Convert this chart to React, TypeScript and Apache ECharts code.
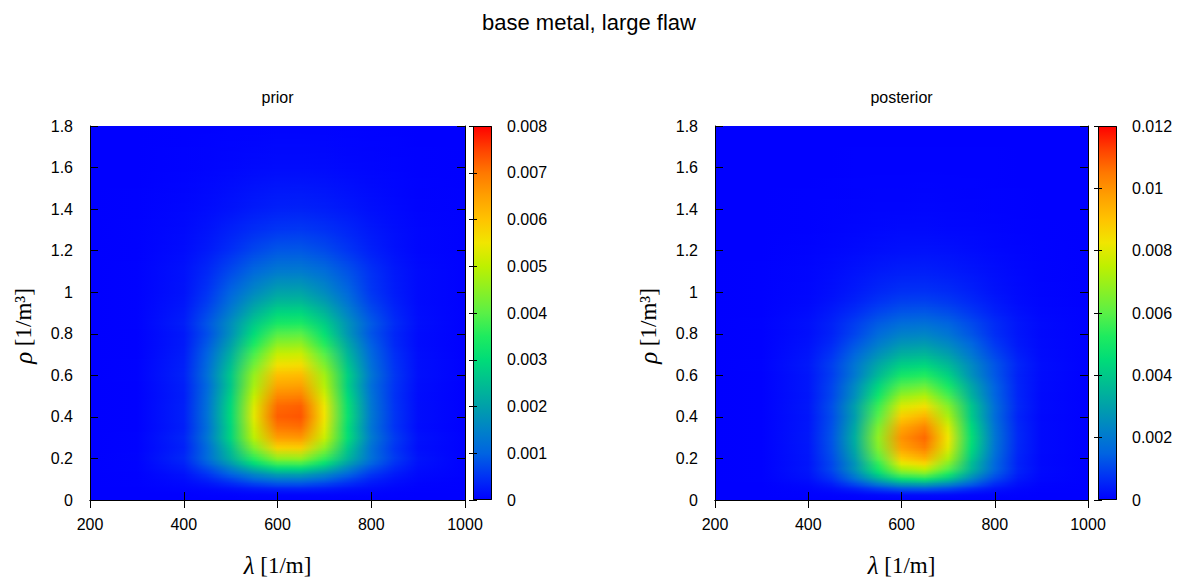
import React, { useEffect, useRef } from "react";
import * as echarts from "echarts";

// λ positions (1/m) of the value columns, and ρ (1/m³) positions of the value rows
const LAMBDA_STOPS = [200, 300, 400, 450, 500, 550, 600, 650, 700, 750, 800, 850, 900, 1000];
const RHO_ROWS = [0, 0.025, 0.05, 0.075, 0.1, 0.125, 0.15, 0.175, 0.2, 0.25, 0.3, 0.35, 0.4, 0.45, 0.5, 0.55, 0.6, 0.65, 0.7, 0.75, 0.8, 0.85, 0.9, 0.95, 1.0, 1.1, 1.2, 1.3, 1.4, 1.6, 1.8];

// matrix entries are in units of 1e-4
const VALUE_UNIT = 1e-4;

const PRIOR_VALUES = [
  [0, 0, 0, 0, 0, 0, 0, 0, 0, 0, 0, 0, 0, 0],
  [0, 0, 0.04, 0.11, 0.22, 0.36, 0.47, 0.5, 0.41, 0.27, 0.15, 0.06, 0.02, 0],
  [0, 0.02, 0.25, 0.64, 1.3, 2.2, 2.8, 3.0, 2.5, 1.6, 0.87, 0.37, 0.12, 0.01],
  [0, 0.05, 0.66, 1.8, 3.7, 6.0, 7.7, 7.8, 6.3, 4.1, 2.1, 0.98, 0.33, 0.02],
  [0, 0.08, 1.2, 3.4, 6.7, 10.7, 13.5, 13.7, 11.0, 7.1, 3.6, 1.7, 0.57, 0.03],
  [0, 0.13, 1.7, 5.1, 10.1, 16.0, 20.3, 20.5, 16.5, 10.6, 5.4, 2.6, 0.86, 0.05],
  [0.01, 0.18, 2.5, 7.2, 14.4, 22.9, 29.0, 29.3, 23.6, 15.1, 7.7, 3.7, 1.2, 0.07],
  [0.01, 0.23, 3.2, 9.4, 18.8, 29.8, 37.7, 38.1, 30.6, 19.7, 10.0, 4.8, 1.6, 0.09],
  [0.01, 0.28, 3.9, 11.3, 22.6, 35.9, 45.4, 45.9, 36.9, 23.7, 12.1, 5.8, 1.9, 0.11],
  [0, 0.16, 3.2, 11.3, 25.4, 43.8, 57.7, 58.3, 45.2, 26.9, 12.2, 5.2, 1.4, 0.05],
  [0, 0.18, 3.6, 12.9, 28.8, 49.6, 65.4, 66.1, 51.2, 30.5, 13.9, 5.9, 1.6, 0.05],
  [0, 0.11, 3.0, 11.9, 28.8, 51.8, 70.0, 70.8, 53.7, 30.4, 12.9, 5.0, 1.2, 0.04],
  [0, 0.11, 3.1, 12.3, 29.7, 53.6, 72.4, 73.2, 55.5, 31.5, 13.4, 5.2, 1.3, 0.04],
  [0, 0.11, 3.1, 12.1, 29.4, 52.9, 71.4, 72.3, 54.8, 31.1, 13.2, 5.1, 1.3, 0.04],
  [0, 0.11, 2.9, 11.6, 28.0, 50.4, 68.1, 68.9, 52.2, 29.6, 12.6, 4.9, 1.2, 0.04],
  [0, 0.12, 3.0, 10.9, 26.4, 47.6, 64.3, 65.0, 49.2, 27.9, 11.9, 5.0, 1.3, 0.04],
  [0, 0.16, 3.3, 11.9, 26.7, 46.0, 60.6, 61.2, 47.4, 28.2, 12.9, 5.4, 1.5, 0.05],
  [0, 0.15, 3.1, 11.0, 24.6, 42.3, 55.8, 56.4, 43.7, 26.0, 11.8, 5.0, 1.4, 0.05],
  [0, 0.14, 2.8, 10.0, 22.5, 38.7, 51.0, 51.5, 39.9, 23.7, 10.8, 4.6, 1.3, 0.04],
  [0, 0.12, 2.5, 8.9, 19.9, 34.3, 45.2, 45.7, 35.4, 21.1, 9.6, 4.0, 1.1, 0.04],
  [0, 0.14, 2.4, 7.7, 17.4, 29.9, 39.4, 39.9, 30.9, 18.4, 8.4, 3.8, 1.1, 0.05],
  [0.01, 0.21, 2.9, 8.4, 16.8, 26.7, 33.8, 34.2, 27.5, 17.6, 9.0, 4.3, 1.4, 0.08],
  [0.01, 0.18, 2.5, 7.2, 14.4, 22.9, 29.0, 29.3, 23.6, 15.1, 7.7, 3.7, 1.2, 0.07],
  [0.01, 0.15, 2.1, 6.0, 12.0, 19.1, 24.2, 24.4, 19.6, 12.6, 6.4, 3.1, 1.0, 0.06],
  [0.01, 0.15, 1.8, 5.1, 10.1, 16.0, 20.3, 20.5, 16.5, 10.6, 5.4, 2.7, 0.95, 0.07],
  [0.01, 0.2, 1.7, 3.9, 7.3, 10.9, 13.6, 13.8, 11.6, 8.2, 4.8, 2.4, 0.98, 0.09],
  [0.01, 0.13, 1.1, 2.5, 4.6, 7.0, 8.7, 8.8, 7.5, 5.3, 3.1, 1.6, 0.63, 0.06],
  [0.01, 0.15, 0.94, 1.8, 3.1, 4.4, 5.3, 5.5, 4.8, 3.6, 2.3, 1.3, 0.58, 0.08],
  [0.01, 0.09, 0.56, 1.1, 1.8, 2.6, 3.2, 3.3, 2.9, 2.2, 1.4, 0.75, 0.35, 0.05],
  [0, 0.03, 0.19, 0.37, 0.61, 0.87, 1.1, 1.1, 0.96, 0.72, 0.46, 0.25, 0.12, 0.02],
  [0, 0.01, 0.05, 0.1, 0.17, 0.24, 0.29, 0.3, 0.26, 0.2, 0.13, 0.07, 0.03, 0],
];

const POSTERIOR_VALUES = [
  [0, 0, 0, 0, 0, 0, 0, 0, 0, 0, 0, 0, 0, 0],
  [0, 0, 0.08, 0.28, 0.7, 1.3, 1.9, 2.0, 1.6, 0.93, 0.41, 0.14, 0.03, 0],
  [0, 0.02, 0.49, 1.7, 4.2, 7.9, 11.2, 11.8, 9.4, 5.6, 2.5, 0.83, 0.2, 0.01],
  [0, 0.05, 1.2, 4.1, 10.5, 19.8, 28.0, 29.6, 23.5, 14.0, 6.2, 2.1, 0.52, 0.02],
  [0, 0.08, 2.1, 6.9, 17.5, 33.0, 46.6, 49.4, 39.2, 23.3, 10.4, 3.5, 0.87, 0.03],
  [0, 0.1, 2.7, 9.0, 22.7, 42.8, 60.6, 64.2, 50.9, 30.3, 13.5, 4.5, 1.1, 0.03],
  [0, 0.12, 3.2, 10.6, 26.9, 50.7, 71.8, 76.0, 60.3, 35.9, 15.9, 5.3, 1.3, 0.04],
  [0, 0.1, 3.0, 10.4, 26.8, 54.5, 80.4, 85.8, 66.2, 37.1, 16.0, 5.0, 1.2, 0.03],
  [0, 0.1, 3.1, 11.2, 29.3, 59.6, 87.8, 93.7, 72.3, 40.5, 17.3, 5.3, 1.2, 0.03],
  [0, 0.1, 3.3, 12.2, 32.3, 65.8, 97.0, 103.5, 79.9, 44.7, 18.9, 5.8, 1.3, 0.03],
  [0, 0.1, 3.4, 12.5, 33.4, 68.0, 100.3, 107.0, 82.6, 46.2, 19.5, 6.0, 1.3, 0.03],
  [0, 0.1, 3.3, 12.0, 32.0, 65.2, 96.1, 102.5, 79.1, 44.3, 18.8, 5.8, 1.3, 0.03],
  [0, 0.1, 3.1, 11.2, 29.3, 59.6, 87.8, 93.7, 72.3, 40.5, 17.3, 5.3, 1.2, 0.03],
  [0, 0.13, 3.5, 11.7, 29.7, 56.0, 79.2, 83.9, 66.6, 39.6, 17.6, 5.9, 1.5, 0.04],
  [0, 0.13, 3.2, 10.4, 25.8, 48.8, 69.0, 73.0, 57.9, 34.5, 15.6, 5.4, 1.4, 0.04],
  [0, 0.16, 3.3, 10.2, 23.9, 42.9, 59.0, 62.2, 50.3, 31.2, 14.8, 5.4, 1.5, 0.05],
  [0, 0.18, 3.1, 9.0, 20.1, 36.1, 49.7, 52.4, 42.3, 26.2, 13.0, 5.0, 1.6, 0.07],
  [0.01, 0.26, 3.6, 9.3, 19.3, 31.7, 41.6, 43.6, 36.3, 24.2, 12.8, 5.4, 1.8, 0.11],
  [0.01, 0.22, 3.0, 7.6, 15.8, 26.0, 34.1, 35.6, 29.7, 19.8, 10.5, 4.4, 1.5, 0.09],
  [0.01, 0.19, 2.5, 6.2, 12.7, 20.9, 27.4, 28.7, 24.0, 15.9, 8.4, 3.6, 1.3, 0.08],
  [0.01, 0.18, 2.1, 5.0, 10.1, 16.6, 21.8, 22.8, 19.0, 12.6, 6.8, 3.1, 1.2, 0.09],
  [0.01, 0.25, 2.2, 4.9, 9.0, 13.7, 17.2, 17.9, 15.3, 10.9, 6.4, 3.1, 1.3, 0.12],
  [0.01, 0.19, 1.7, 3.7, 6.8, 10.3, 12.9, 13.4, 11.5, 8.2, 4.8, 2.4, 0.95, 0.09],
  [0.01, 0.14, 1.2, 2.7, 5.0, 7.6, 9.6, 9.9, 8.5, 6.1, 3.6, 1.7, 0.7, 0.07],
  [0.01, 0.11, 0.93, 2.1, 3.8, 5.7, 7.2, 7.4, 6.4, 4.6, 2.7, 1.3, 0.53, 0.05],
  [0.01, 0.12, 0.77, 1.5, 2.5, 3.6, 4.3, 4.5, 3.9, 3.0, 1.9, 1.0, 0.48, 0.06],
  [0.01, 0.07, 0.43, 0.84, 1.4, 2.0, 2.4, 2.5, 2.2, 1.6, 1.05, 0.57, 0.27, 0.04],
  [0, 0.04, 0.22, 0.43, 0.73, 1.0, 1.3, 1.3, 1.1, 0.85, 0.54, 0.3, 0.14, 0.02],
  [0, 0.02, 0.12, 0.23, 0.39, 0.56, 0.67, 0.7, 0.61, 0.46, 0.29, 0.16, 0.07, 0.01],
  [0, 0.01, 0.03, 0.07, 0.11, 0.16, 0.19, 0.2, 0.17, 0.13, 0.08, 0.05, 0.02, 0],
  [0, 0, 0, 0, 0, 0, 0, 0, 0, 0, 0, 0, 0, 0],
];

// axes
const X_MIN = 200;
const X_MAX = 1000;
const X_INTERVAL = 200;
const Y_MIN = 0;
const Y_MAX = 1.8;
const Y_INTERVAL = 0.2;
const PRIOR_CB_MAX = 0.008;
const PRIOR_CB_INTERVAL = 0.001;
const POSTERIOR_CB_MAX = 0.012;
const POSTERIOR_CB_INTERVAL = 0.002;

const TITLE = "base metal, large flaw";
const PANEL_TITLES = ["prior", "posterior"];

// colour map, evenly spaced from 0 to max
const COLORMAP = [
  "#0000ff", "#0032f5", "#0064e1", "#0082c8", "#00a0aa", "#00be91", "#00dc78", "#1eeb5f",
  "#5af046", "#8cf023", "#bef000", "#f0e600", "#ffc300", "#ffa000", "#ff7800", "#ff4100", "#ff0000",
];

const SANS = "'Liberation Sans', Arial, Helvetica, sans-serif";
const SERIF = "'Liberation Serif', 'Times New Roman', serif";

function rowColors(matrix: number[][], i: number, vmax: number): string[] {
  return matrix[i].map((v) =>
    echarts.color.lerp(Math.max(0, Math.min(1, (v * VALUE_UNIT) / vmax)), COLORMAP) as string
  );
}

// each data item is the band between two measured rows (drawn top band first);
// the band is shaded by blending the two rows' horizontal colour gradients
function heatRenderer(matrix: number[][], vmax: number) {
  const x0 = LAMBDA_STOPS[0];
  const x1 = LAMBDA_STOPS[LAMBDA_STOPS.length - 1];
  const offsets = LAMBDA_STOPS.map((l) => (l - x0) / (x1 - x0));
  const nBands = RHO_ROWS.length - 1;
  return (params: any, api: any) => {
    const i = nBands - 1 - params.dataIndex;
    const r0 = RHO_ROWS[i];
    const r1 = RHO_ROWS[i + 1];
    const tl = api.coord([x0, r1]);
    const br = api.coord([x1, r0]);
    const x = tl[0];
    const w = br[0] - tl[0];
    const yTop = tl[1];
    const yBot = br[1];
    const h = yBot - yTop;
    const cLow = rowColors(matrix, i, vmax);
    const cHigh = rowColors(matrix, i + 1, vmax);
    const K = Math.max(2, Math.ceil(h / 1.5));
    const children: any[] = [];
    for (let k = K - 1; k >= 0; k--) {
      const t = (k + 0.5) / K;
      const yb = yBot - (h * k) / K;
      const yt = yBot - (h * (k + 1)) / K;
      const stops = offsets.map((o, j) => ({
        offset: o,
        color: echarts.color.lerp(t, [cLow[j], cHigh[j]]) as string,
      }));
      children.push({
        type: "rect",
        shape: { x, y: yt, width: w, height: yb - yt + 1.6 },
        style: { fill: new echarts.graphic.LinearGradient(0, 0, 1, 0, stops) },
      });
    }
    return { type: "group", silent: true, children };
  };
}

function barRenderer(vmax: number) {
  return (_params: any, api: any) => {
    const tl = api.coord([0, vmax]);
    const br = api.coord([1, 0]);
    const stops = COLORMAP.map((c, k) => ({ offset: k / (COLORMAP.length - 1), color: c }));
    return {
      type: "group",
      silent: true,
      children: [
        {
          type: "rect",
          shape: { x: tl[0], y: tl[1], width: br[0] - tl[0], height: br[1] - tl[1] },
          style: { fill: new echarts.graphic.LinearGradient(0, 1, 0, 0, stops) },
        },
        {
          type: "rect",
          shape: { x: tl[0] + 0.5, y: tl[1] + 0.5, width: br[0] - tl[0] - 1, height: br[1] - tl[1] - 1 },
          style: { fill: "none", stroke: "#000", lineWidth: 1 },
        },
      ],
    };
  };
}

function buildOption() {
  const grid: any[] = [];
  const xAxis: any[] = [];
  const yAxis: any[] = [];
  const series: any[] = [];
  const graphic: any[] = [];

  const panels = [
    { left: 90, width: 375, barLeft: 473, values: PRIOR_VALUES, vmax: PRIOR_CB_MAX, vint: PRIOR_CB_INTERVAL },
    { left: 715, width: 373, barLeft: 1098, values: POSTERIOR_VALUES, vmax: POSTERIOR_CB_MAX, vint: POSTERIOR_CB_INTERVAL },
  ];
  const top = 126;
  const height = 374;
  const line = { show: true, lineStyle: { color: "#000", width: 1 } };
  const label = { color: "#000", fontSize: 16, fontFamily: SANS };
  const plain = (v: number) => String(Math.round(v * 1e6) / 1e6);

  panels.forEach((p, k) => {
    const g = grid.length;
    grid.push({ left: p.left, top, width: p.width, height, containLabel: false });
    grid.push({ left: p.barLeft, top, width: 19, height, containLabel: false });
    const xi = xAxis.length;
    const yi = yAxis.length;
    const xBase = { type: "value", min: X_MIN, max: X_MAX, interval: X_INTERVAL, gridIndex: g, z: 6, splitLine: { show: false }, axisLine: line };
    xAxis.push({ ...xBase, position: "bottom", axisTick: { inside: true, length: 8, lineStyle: { color: "#000" } }, axisLabel: { ...label, margin: 16, formatter: plain } });
    xAxis.push({ ...xBase, position: "top", axisTick: { inside: true, length: 8, lineStyle: { color: "#000" } }, axisLabel: { show: false } });
    xAxis.push({ type: "value", min: 0, max: 1, gridIndex: g + 1, show: false });
    const yBase = { type: "value", min: Y_MIN, max: Y_MAX, interval: Y_INTERVAL, gridIndex: g, z: 6, splitLine: { show: false }, axisLine: line };
    yAxis.push({ ...yBase, position: "left", axisTick: { inside: true, length: 8, lineStyle: { color: "#000" } }, axisLabel: { ...label, margin: 17, formatter: plain } });
    yAxis.push({ ...yBase, position: "right", axisTick: { inside: true, length: 8, lineStyle: { color: "#000" } }, axisLabel: { show: false } });
    const cbBase = { type: "value", min: 0, max: p.vmax, interval: p.vint, gridIndex: g + 1, z: 6, splitLine: { show: false }, axisLine: { show: false } };
    yAxis.push({ ...cbBase, position: "right", axisTick: { inside: true, length: 4, lineStyle: { color: "#000" } }, axisLabel: { ...label, margin: 15, formatter: plain } });
    yAxis.push({ ...cbBase, position: "left", axisTick: { inside: true, length: 4, lineStyle: { color: "#000" } }, axisLabel: { show: false } });

    series.push({
      type: "custom",
      name: PANEL_TITLES[k],
      xAxisIndex: xi,
      yAxisIndex: yi,
      clip: true,
      z: 2,
      renderItem: heatRenderer(p.values, p.vmax),
      data: RHO_ROWS.slice(0, -1).reverse().map((r) => [X_MIN, r]),
    });
    series.push({
      type: "custom",
      name: PANEL_TITLES[k] + " colorbar",
      xAxisIndex: xi + 2,
      yAxisIndex: yi + 2,
      z: 2,
      renderItem: barRenderer(p.vmax),
      data: [[0, 0]],
    });

    const cx = p.left + p.width / 2;
    graphic.push({
      type: "text",
      x: cx,
      y: 97,
      style: { text: PANEL_TITLES[k], fill: "#000", font: `16px ${SANS}`, align: "center", verticalAlign: "middle" },
    });
    graphic.push({
      type: "text",
      x: cx,
      y: 565,
      style: {
        text: "{i|λ} [1/m]",
        fill: "#000",
        fontSize: 23,
        fontFamily: SERIF,
        align: "center",
        verticalAlign: "middle",
        rich: { i: { fontStyle: "italic", fontSize: 25, fontFamily: SERIF, fill: "#000" } },
      },
    });
    graphic.push({
      type: "text",
      x: p.left - 67,
      y: 326,
      rotation: Math.PI / 2,
      style: {
        text: "{i|ρ} [1/m³]",
        fill: "#000",
        fontSize: 23,
        fontFamily: SERIF,
        align: "center",
        verticalAlign: "middle",
        rich: { i: { fontStyle: "italic", fontSize: 25, fontFamily: SERIF, fill: "#000" } },
      },
    });
  });

  graphic.push({
    type: "text",
    x: 589,
    y: 22,
    style: { text: TITLE, fill: "#000", font: `22px ${SANS}`, align: "center", verticalAlign: "middle" },
  });

  return {
    animation: false,
    backgroundColor: "#ffffff",
    textStyle: { fontFamily: SANS },
    grid,
    xAxis,
    yAxis,
    series,
    graphic,
  };
}

export default function App() {
  const ref = useRef<HTMLDivElement>(null);
  useEffect(() => {
    if (!ref.current) return;
    const chart = echarts.init(ref.current, undefined, { renderer: "svg" });
    chart.setOption(buildOption() as any);
    return () => chart.dispose();
  }, []);
  return (
    <div
      ref={ref}
      style={{ position: "absolute", left: 0, top: 0, width: 1178, height: 579, background: "#fff" }}
    />
  );
}
